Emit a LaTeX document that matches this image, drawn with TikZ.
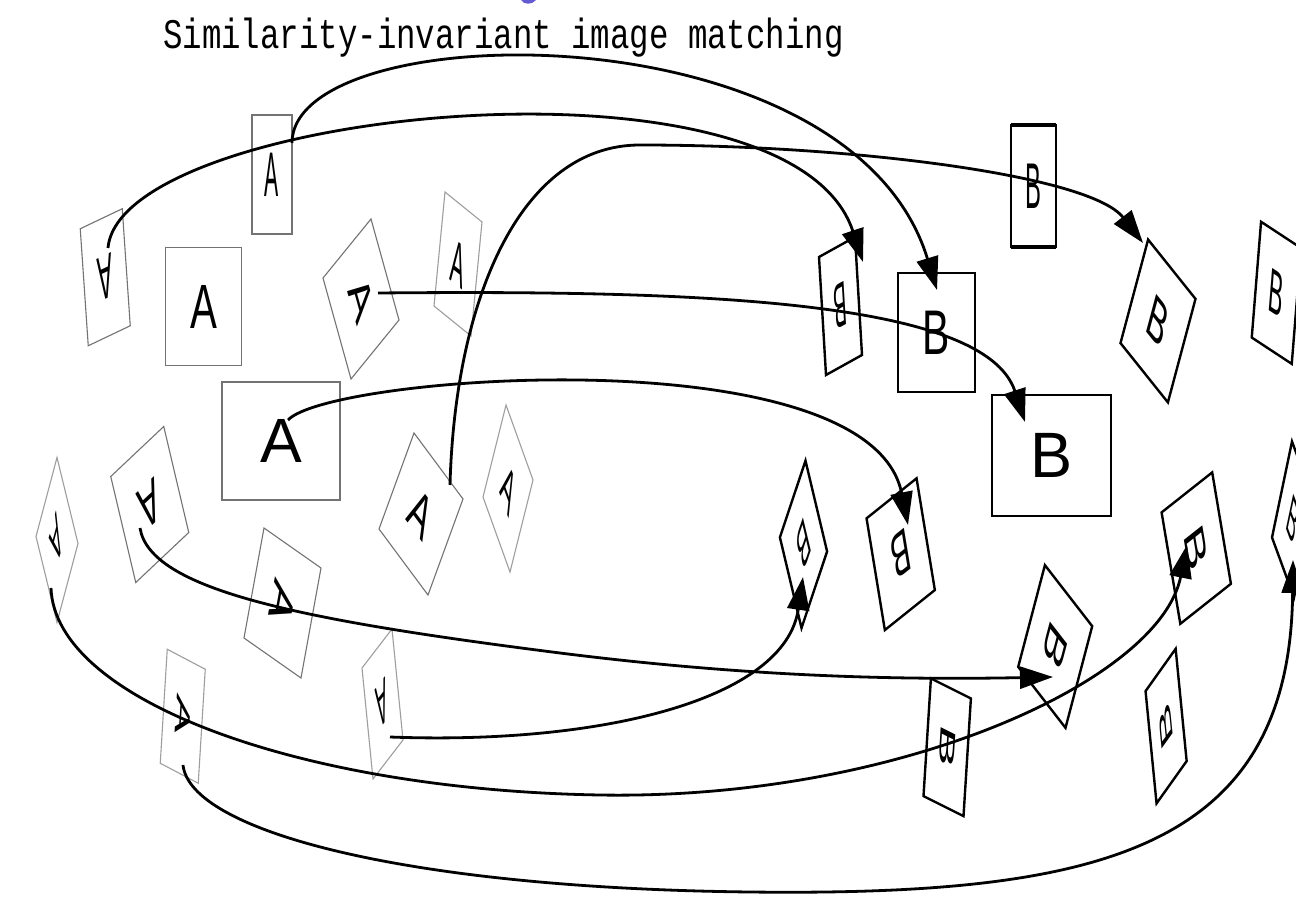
\documentclass[tikz,border=0pt]{standalone}
\usepackage{fontspec}
\setmainfont{Liberation Sans}
\newfontfamily\titlefont{Liberation Mono}
\usetikzlibrary{arrows.meta}
% #1 name, #2 cx, #3 cy, #4 ux, #5 uy, #6 vx, #7 vy (pixel units, y down), #8 letter, #9 border style
\newcommand{\patchshape}[9]{%
  \pgfmathsetmacro\pmA{(#4)/100}%
  \pgfmathsetmacro\pmB{-(#5)/100}%
  \pgfmathsetmacro\pmC{(#6)/100}%
  \pgfmathsetmacro\pmD{-(#7)/100}%
  \begin{scope}[shift={(#2,#3)}, cm={\pmA,\pmB,\pmC,\pmD,(0pt,0pt)}]
    \draw[#9] (-50pt,-50pt) -- (50pt,-50pt) -- (50pt,50pt) -- (-50pt,50pt) -- cycle;
    \node[patchletter] (#1) at (0pt,0pt) {#8};
  \end{scope}}
\tikzset{
  patchletter/.style={transform shape, inner sep=0pt, font=\fontsize{53}{53}\selectfont},
  pa/.style={draw=black!55, line width=1.1pt, line join=miter},
  pal/.style={draw=black!38, line width=1.1pt, line join=miter},
  pb/.style={draw=black, line width=2.4pt, line join=miter},
  conn/.style={line width=2.8pt, -{Triangle[length=33pt,width=22pt]}}
}
\begin{document}
\begin{tikzpicture}[x=1pt, y=-1pt]
\fill[white] (0,0) rectangle (1296,901);
\useasboundingbox (0,0) rectangle (1296,901);

% title
\node[anchor=base west, inner sep=0pt] (title) at (163,49)
  {\scalebox{1}[1.3]{\titlefont\fontsize{32.4}{32}\selectfont Similarity-invariant image matching}};
\fill[color={rgb,255:red,100;green,90;blue,210}] (521,0) .. controls (524,5) and (532,5) .. (536,0) -- cycle;

% A patches
\patchshape{pa1}{105.25}{277.25}{-42}{20}{8}{117}{A}{pa}
\patchshape{pa2}{272}{174.5}{40}{0}{0}{-119}{A}{pa}
\patchshape{pa3}{203.5}{306.5}{76}{0}{0}{-118}{A}{pa}
\patchshape{pa4}{281}{441}{118}{0}{0}{-118}{A}{pa}
\patchshape{pa5}{361}{299}{28}{101}{48}{-59}{A}{pa}
\patchshape{pa6}{458}{264}{37}{30}{11}{-114}{A}{pal}
\patchshape{pa7}{421}{514}{49}{66}{35}{-96}{A}{pa}
\patchshape{pa8}{508}{488.5}{27}{75}{23}{-92}{A}{pal}
\patchshape{pa9}{57}{540}{-21}{79}{21}{86}{A}{pal}
\patchshape{pa10}{149.75}{504.5}{-53}{50}{25}{106}{A}{pa}
\patchshape{pa11}{282.5}{603}{-20}{110}{57}{40}{A}{pa}
\patchshape{pa12}{182.75}{716.25}{-7}{114}{38}{20}{A}{pal}
\patchshape{pa13}{382.5}{704}{-30}{39}{11}{111}{A}{pal}

% B patches
\patchshape{pb1}{840.5}{306}{-36}{20}{7}{118}{B}{pb}
\patchshape{pb2}{936.5}{332.5}{77}{0}{0}{-119}{B}{pb}
\patchshape{pb3}{1051.5}{455.5}{119}{0}{0}{-121}{B}{pb}
\patchshape{pb4}{1033.5}{186}{45}{0}{0}{-122}{B}{pb}
\draw[line width=4.5pt] (pb4.center) ++(-22.5,-61) -- ++(45,0);
\draw[line width=4.5pt] (pb4.center) ++(-22.5,61) -- ++(45,0);
\patchshape{pb5}{1158}{321}{47.4}{59.3}{27.6}{-103.5}{B}{pb}
\patchshape{pb6}{1276.4}{292.8}{40}{26.3}{9.3}{-115.8}{B}{pb}
\patchshape{pb7}{1196.25}{548.1}{18.7}{111.4}{50.6}{-40}{B}{pb}
\patchshape{pb8}{1166.1}{726.1}{-11}{-112.3}{-30.1}{42.3}{B}{pb}
\patchshape{pb9}{947.2}{747.3}{-7.4}{117.7}{40}{20}{B}{pb}
\patchshape{pb10}{803.5}{544.4}{-25.6}{76.6}{21.6}{90.7}{B}{pb}
\patchshape{pb11}{900.7}{554.2}{-50}{40}{18.3}{111.7}{B}{pb}
\patchshape{pb12}{1055.2}{646.5}{-26.7}{101.7}{47.3}{61}{B}{pb}
\patchshape{pb13}{1293}{519.5}{22}{60}{20}{-96}{B}{pb}

% connector end points
\coordinate (s1) at (108,248);  \coordinate (e1) at (863,262);
\coordinate (s2) at (292,143);  \coordinate (e2) at (937,290);
\coordinate (s3) at (450,485);  \coordinate (m3) at (640,145);  \coordinate (e3) at (1143,243);
\coordinate (s4) at (378,293);  \coordinate (e4) at (1025,422);
\coordinate (s5) at (288,420);  \coordinate (e5) at (908,525);
\coordinate (s6) at (140,528);  \coordinate (m6) at (560,653);  \coordinate (e6) at (1053,677);
\coordinate (s7) at (390,737);  \coordinate (e7) at (803,577);
\coordinate (s8) at (51,588);   \coordinate (m8) at (600,795);  \coordinate (e8) at (1187,545);
\coordinate (s9) at (183,765);  \coordinate (m9) at (750,892);  \coordinate (e9) at (1293,560);

\draw[conn] (s1) .. controls (120,110) and (790,40) .. (e1);
\draw[conn] (s2) .. controls (292,15) and (850,5) .. (e2);
\draw[conn] (s3) .. controls (455,300) and (520,145) .. (m3) .. controls (850,145) and (1090,175) .. (e3);
\draw[conn] (s4) .. controls (700,290) and (985,300) .. (e4);
\draw[conn] (s5) .. controls (330,375) and (870,335) .. (e5);
\draw[conn] (s6) .. controls (150,590) and (300,620) .. (m6) .. controls (750,677) and (900,680) .. (e6);
\draw[conn] (s7) .. controls (600,745) and (785,700) .. (e7);
\draw[conn] (s8) .. controls (55,700) and (300,790) .. (m8) .. controls (900,800) and (1160,680) .. (e8);
\draw[conn] (s9) .. controls (190,830) and (400,888) .. (m9) .. controls (1100,896) and (1290,850) .. (e9);
\end{tikzpicture}
\end{document}
